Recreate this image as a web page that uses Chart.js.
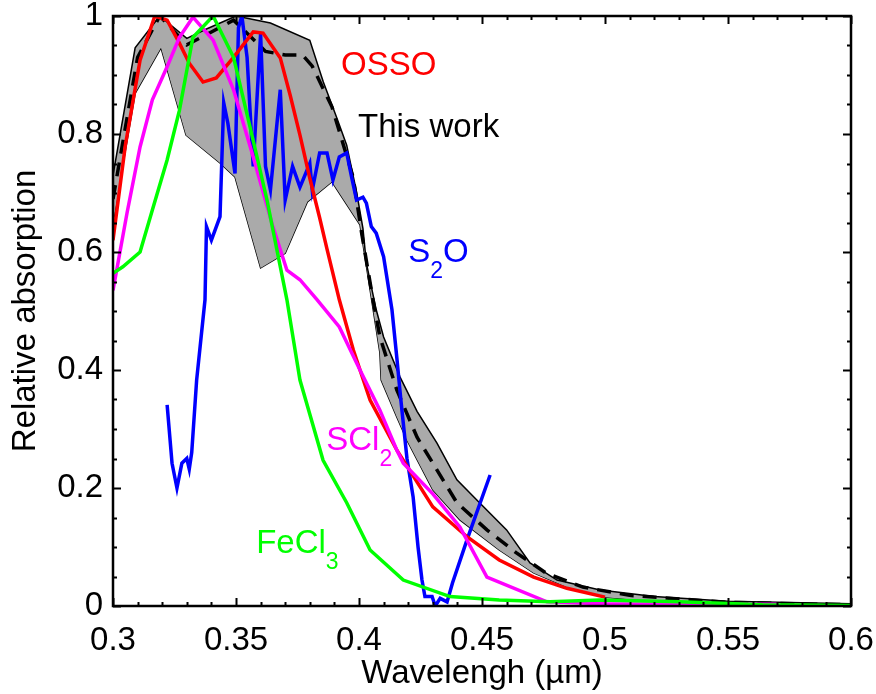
<!DOCTYPE html>
<html>
<head>
<meta charset="utf-8">
<script src="https://cdn.jsdelivr.net/npm/chart.js@4/dist/chart.umd.min.js"></script>
<style>
  html, body { margin: 0; padding: 0; background: #fff; }
  #wrap { width: 876px; height: 694px; }
</style>
</head>
<body>
<div id="wrap"><canvas id="absChart" width="876" height="694"></canvas></div>
<script>
// tick labels
var xTicks = [0.3, 0.35, 0.4, 0.45, 0.5, 0.55, 0.6];
var yTicks = [0, 0.2, 0.4, 0.6, 0.8, 1];

// This work: band edges and mean (dashed)
var bandTopWl  = [0.300, 0.309, 0.319, 0.330, 0.338, 0.350, 0.364, 0.380, 0.3855, 0.391, 0.395, 0.399, 0.4016, 0.403, 0.407, 0.410, 0.4167, 0.4236, 0.4317, 0.4398, 0.449, 0.460, 0.4695, 0.4805, 0.498, 0.520, 0.550, 0.600];
var bandTopAbs = [0.730, 0.946, 1.000, 0.962, 0.978, 1.000, 0.988, 0.959, 0.888, 0.827, 0.781, 0.702, 0.640, 0.581, 0.502, 0.456, 0.388, 0.330, 0.276, 0.214, 0.175, 0.129, 0.073, 0.044, 0.027, 0.016, 0.008, 0.004];
var bandLowWl  = [0.300, 0.309, 0.3195, 0.3297, 0.3435, 0.3496, 0.360, 0.370, 0.379, 0.389, 0.4004, 0.4085, 0.409, 0.4154, 0.4195, 0.430, 0.441, 0.457, 0.471, 0.4845, 0.500, 0.520, 0.550, 0.600];
var bandLowAbs = [0.650, 0.869, 0.946, 0.798, 0.751, 0.727, 0.573, 0.598, 0.685, 0.719, 0.646, 0.429, 0.383, 0.320, 0.281, 0.197, 0.146, 0.095, 0.056, 0.032, 0.015, 0.008, 0.003, 0.001];
var meanWl  = [0.300, 0.310, 0.319, 0.330, 0.340, 0.349, 0.354, 0.362, 0.370, 0.377, 0.381, 0.389, 0.3976, 0.401, 0.4057, 0.4085, 0.4154, 0.4236, 0.4398, 0.452, 0.464, 0.476, 0.491, 0.510, 0.550, 0.600];
var meanAbs = [0.690, 0.930, 1.000, 0.951, 0.973, 0.993, 0.973, 0.940, 0.934, 0.934, 0.915, 0.846, 0.727, 0.634, 0.519, 0.456, 0.366, 0.286, 0.175, 0.129, 0.090, 0.056, 0.032, 0.018, 0.006, 0.002];

// OSSO
var ossoWl  = [0.300, 0.305, 0.311, 0.317, 0.322, 0.327, 0.331, 0.3366, 0.342, 0.349, 0.357, 0.361, 0.368, 0.372, 0.376, 0.380, 0.384, 0.387, 0.392, 0.3977, 0.4045, 0.4154, 0.430, 0.444, 0.457, 0.471, 0.4845, 0.500];
var ossoAbs = [0.620, 0.780, 0.925, 1.000, 0.993, 0.954, 0.920, 0.888, 0.895, 0.930, 0.973, 0.971, 0.929, 0.866, 0.798, 0.725, 0.658, 0.605, 0.519, 0.434, 0.349, 0.264, 0.168, 0.117, 0.078, 0.049, 0.030, 0.015];

// SCl2
var sclWl  = [0.300, 0.3057, 0.311, 0.316, 0.322, 0.327, 0.3325, 0.3407, 0.349, 0.357, 0.365, 0.3707, 0.376, 0.383, 0.392, 0.4004, 0.4085, 0.4154, 0.418, 0.430, 0.441, 0.452, 0.4764, 0.500, 0.550, 0.570];
var sclAbs = [0.535, 0.666, 0.778, 0.858, 0.914, 0.964, 0.998, 0.959, 0.875, 0.761, 0.643, 0.569, 0.553, 0.519, 0.473, 0.400, 0.332, 0.264, 0.242, 0.190, 0.134, 0.049, 0.007, 0.004, 0.003, 0.003];

// FeCl3
var feclWl  = [0.300, 0.304, 0.311, 0.316, 0.322, 0.327, 0.3325, 0.3407, 0.349, 0.3557, 0.3626, 0.3707, 0.376, 0.3854, 0.395, 0.4045, 0.418, 0.437, 0.457, 0.4776, 0.498, 0.530, 0.564, 0.600];
var feclAbs = [0.564, 0.575, 0.600, 0.671, 0.756, 0.840, 0.964, 1.000, 0.930, 0.812, 0.688, 0.519, 0.383, 0.247, 0.175, 0.095, 0.044, 0.016, 0.010, 0.007, 0.010, 0.007, 0.002, 0.001];

// S2O
var s2oWl  = [0.322, 0.324, 0.326, 0.328, 0.330, 0.331, 0.332, 0.334, 0.3374, 0.338, 0.340, 0.3435, 0.345, 0.3467, 0.3496, 0.351, 0.3524, 0.3545, 0.357, 0.360, 0.362, 0.364, 0.368, 0.370, 0.373, 0.376, 0.380, 0.381, 0.384, 0.387, 0.3894, 0.392, 0.395, 0.397, 0.399, 0.4016, 0.403, 0.405, 0.407, 0.410, 0.4134, 0.4154, 0.417, 0.4195, 0.422, 0.424, 0.4256, 0.4268, 0.4297, 0.431, 0.433, 0.4358, 0.438, 0.4439, 0.4533];
var s2oAbs = [0.341, 0.242, 0.200, 0.242, 0.250, 0.232, 0.260, 0.383, 0.519, 0.643, 0.620, 0.660, 0.853, 0.818, 0.733, 0.980, 1.000, 0.930, 0.745, 0.970, 0.745, 0.705, 0.875, 0.688, 0.745, 0.710, 0.750, 0.705, 0.768, 0.768, 0.722, 0.761, 0.768, 0.727, 0.688, 0.693, 0.683, 0.643, 0.632, 0.592, 0.502, 0.420, 0.350, 0.250, 0.185, 0.100, 0.044, 0.016, 0.016, 0.000, 0.013, 0.007, 0.039, 0.112, 0.222];

var FONT = "'Liberation Sans', Arial, Helvetica, sans-serif";

function pts(xs, ys) {
    return xs.map(function (x, i) { return { x: x, y: ys[i] }; });
}

function curve(label, xs, ys, color, extra) {
    var ds = {
        label: label,
        data: pts(xs, ys),
        borderColor: color,
        borderWidth: 3.5,
        pointRadius: 0,
        tension: 0,
        fill: false
    };
    for (var k in extra) ds[k] = extra[k];
    return ds;
}

// text labels in data coordinates, with optional subscript
var tags = [
    { main: 'OSSO', sub: '', tail: '', color: '#ff0000', x: 0.3927, y: 0.900 },
    { main: 'This work', sub: '', tail: '', color: '#000000', x: 0.3996, y: 0.795 },
    { main: 'S', sub: '2', tail: 'O', color: '#0000ff', x: 0.4200, y: 0.583 },
    { main: 'SCl', sub: '2', tail: '', color: '#ff00ff', x: 0.3867, y: 0.2644 },
    { main: 'FeCl', sub: '3', tail: '', color: '#00ff00', x: 0.3582, y: 0.0898 }
];

var framePlugin = {
    id: 'frame',
    afterDatasetsDraw: function (chart) {
        var ctx = chart.ctx, a = chart.chartArea;
        var xs = chart.scales.x, ys = chart.scales.y;
        ctx.save();
        ctx.strokeStyle = '#000';
        ctx.lineCap = 'butt';
        // minor + major ticks, inward on all four sides
        var v, px, len;
        for (var i = 0; i <= 30; i++) {
            v = 0.3 + i * 0.01;
            px = Math.round(xs.getPixelForValue(v)) + 0.5;
            len = (i % 5 === 0) ? 8 : 4;
            ctx.lineWidth = 2;
            ctx.beginPath();
            ctx.moveTo(px, a.bottom); ctx.lineTo(px, a.bottom - len);
            ctx.moveTo(px, a.top); ctx.lineTo(px, a.top + len);
            ctx.stroke();
        }
        for (var j = 0; j <= 20; j++) {
            v = j * 0.05;
            px = Math.round(ys.getPixelForValue(v)) + 0.5;
            len = (j % 4 === 0) ? 8 : 4;
            ctx.lineWidth = 2;
            ctx.beginPath();
            ctx.moveTo(a.left, px); ctx.lineTo(a.left + len, px);
            ctx.moveTo(a.right, px); ctx.lineTo(a.right - len, px);
            ctx.stroke();
        }
        ctx.lineWidth = 2.5;
        ctx.strokeRect(a.left, a.top, a.right - a.left, a.bottom - a.top);

        // labels
        ctx.textBaseline = 'alphabetic';
        ctx.textAlign = 'left';
        tags.forEach(function (t) {
            var x0 = xs.getPixelForValue(t.x), y0 = ys.getPixelForValue(t.y);
            ctx.fillStyle = t.color;
            ctx.font = '33px ' + FONT;
            ctx.fillText(t.main, x0, y0);
            var w = ctx.measureText(t.main).width;
            if (t.sub) {
                ctx.font = '23px ' + FONT;
                ctx.fillText(t.sub, x0 + w, y0 + 16);
                w += ctx.measureText(t.sub).width;
            }
            if (t.tail) {
                ctx.font = '33px ' + FONT;
                ctx.fillText(t.tail, x0 + w, y0);
            }
        });
        ctx.restore();
    }
};

var ctx = document.getElementById('absChart').getContext('2d');
new Chart(ctx, {
    type: 'line',
    data: {
        datasets: [
            curve('FeCl3', feclWl, feclAbs, '#00ff00'),
            curve('SCl2', sclWl, sclAbs, '#ff00ff'),
            curve('OSSO', ossoWl, ossoAbs, '#ff0000'),
            curve('S2O', s2oWl, s2oAbs, '#0000ff'),
            curve('This work', meanWl, meanAbs, '#000000', { borderDash: [14, 9] }),
            curve('band top', bandTopWl, bandTopAbs, '#000000', { borderWidth: 1.5, fill: '+1', backgroundColor: '#aaaaaa' }),
            curve('band low', bandLowWl, bandLowAbs, '#000000', { borderWidth: 1.5 })
        ]
    },
    options: {
        responsive: false,
        animation: false,
        events: [],
        layout: { padding: { top: 16, right: 25, left: 0, bottom: 0 } },
        plugins: {
            legend: { display: false },
            tooltip: { enabled: false }
        },
        scales: {
            x: {
                type: 'linear',
                min: 0.3,
                max: 0.6,
                afterBuildTicks: function (s) { s.ticks = xTicks.map(function (v) { return { value: v }; }); },
                afterFit: function (s) {
                    s.height = 88;
                    s.paddingLeft = 0; s.paddingRight = 0;
                },
                grid: { display: false, drawTicks: false },
                border: { display: false },
                ticks: {
                    padding: 15,
                    color: '#000',
                    maxRotation: 0,
                    autoSkip: false,
                    font: { family: FONT, size: 33 },
                    callback: function (v) { return String(v); }
                },
                title: {
                    display: true,
                    text: 'Wavelengh (µm)',
                    color: '#000',
                    font: { family: FONT, size: 33 },
                    padding: { top: 0, bottom: 0 }
                }
            },
            y: {
                type: 'linear',
                min: 0,
                max: 1,
                afterBuildTicks: function (s) { s.ticks = yTicks.map(function (v) { return { value: v }; }); },
                afterFit: function (s) {
                    s.width = 113;
                    s.paddingTop = 0; s.paddingBottom = 0;
                },
                grid: { display: false, drawTicks: false },
                border: { display: false },
                ticks: {
                    padding: 10,
                    color: '#000',
                    autoSkip: false,
                    font: { family: FONT, size: 33 },
                    callback: function (v) { return String(v); }
                },
                title: {
                    display: true,
                    text: 'Relative absorption',
                    color: '#000',
                    font: { family: FONT, size: 33 },
                    padding: { top: 6, bottom: 0 }
                }
            }
        }
    },
    plugins: [framePlugin]
});
</script>
</body>
</html>
